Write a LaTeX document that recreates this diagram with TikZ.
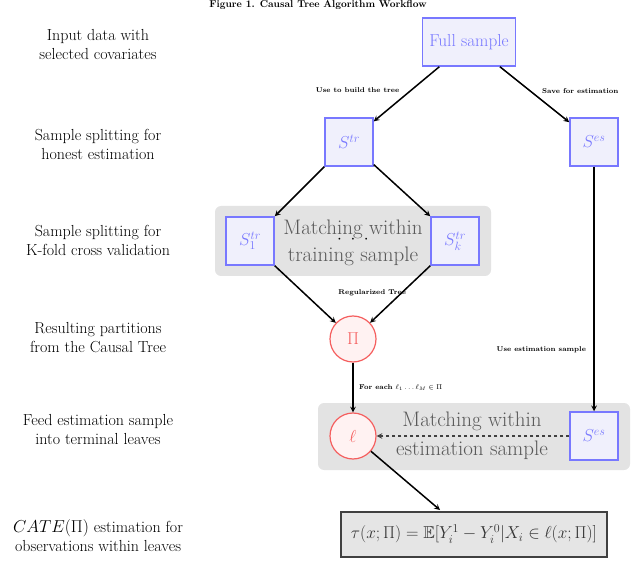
\documentclass[tikz,border=0pt]{standalone}
\usepackage{amsmath}
\usepackage{amssymb}
\usetikzlibrary{positioning, arrows}
\definecolor{boxblue}{RGB}{120,120,255}
\definecolor{boxfill}{RGB}{240,240,252}
\definecolor{leafred}{RGB}{245,95,95}
\tikzset{
	>=stealth, % arrow heads
	sample/.style={draw=boxblue, fill=boxfill, line width=1.5pt, text=boxblue, minimum size=48pt, font=\LARGE}, % blue sample boxes
	part/.style={circle, draw=leafred, fill=red!5, line width=1.2pt, text=leafred, minimum size=46pt, font=\LARGE}, % red partition nodes
	stage/.style={align=center, font=\fontsize{16}{19}\selectfont}, % left column texts
	group/.style={fill=gray!22, rounded corners=6pt}, % grey backgrounds
	elabel/.style={font=\scriptsize\bfseries}, % edge labels
	match/.style={align=center, text=gray!70!black, font=\fontsize{21}{25}\selectfont},
	flow/.style={->, line width=1.5pt},
}
\begin{document}
\begin{tikzpicture}[x=1pt, y=-1pt]
	\useasboundingbox (0,0) rectangle (640,561);
	\node[font=\normalsize\bfseries\scshape] (title) at (318,5) {Figure 1. Causal Tree Algorithm Workflow};
	% grey groups
	\fill[group] (215,206) rectangle (491,276);
	\fill[group] (318,403) rectangle (630,470);
	% left column
	\node[stage] (l1) at (98,45) {Input data with\\selected covariates};
	\node[stage] (l2) at (98,144) {Sample splitting for\\honest estimation};
	\node[stage] (l3) at (98,240) {Sample splitting for\\K-fold cross validation};
	\node[stage] (l4) at (98,338) {Resulting partitions\\from the Causal Tree};
	\node[stage] (l5) at (98,430) {Feed estimation sample\\into terminal leaves};
	\node[stage] (l6) at (98,536) {$CATE(\Pi)$ estimation for\\observations within leaves};
	% nodes
	\node[sample, minimum width=93pt] (full) at (469,42) {Full sample};
	\node[sample] (str) at (349,142) {$S^{tr}$};
	\node[sample] (ses) at (594,142) {$S^{es}$};
	\node[sample] (s1) at (250,241) {$S^{tr}_1$};
	\node[sample] (sk) at (455,241) {$S^{tr}_k$};
	\node[match] (mtr) at (353,229) {Matching within};
	\node[match] (mtr2) at (353,256) {training sample};
	\node[font=\LARGE] (dots) at (353,240) {$\cdot\;\cdot\;\cdot$};
	\node[part] (pi) at (353,339) {$\Pi$};
	\node[part] (leaf) at (353,436) {$\ell$};
	\node[sample] (ses2) at (594,436) {$S^{es}$};
	\node[match] (mes) at (472,436) {Matching within\\[4pt]estimation sample};
	\node[draw=black!75, fill=gray!20, line width=2pt, minimum width=266pt, minimum height=45pt, font=\LARGE, text=black!80] (tau) at (474,534) {$\tau(x;\Pi)=\mathbb{E}[Y_i^1-Y_i^0|X_i\in\ell(x;\Pi)]$};
	\coordinate (tauin) at (440,510);
	% connectors
	\draw[flow] (full) -- node[elabel, above left, pos=0.55] {Use to build the tree} (str);
	\draw[flow] (full) -- node[elabel, above right, pos=0.55] {Save for estimation} (ses);
	\draw[flow] (str) -- (s1.north east);
	\draw[flow] (str) -- (sk.north west);
	\draw[flow] (s1.south east) -- (pi);
	\draw[flow] (sk.south west) -- node[elabel, above, pos=0.6, xshift=-22pt] {Regularized Tree} (pi);
	\draw[flow] (ses) -- node[elabel, left, pos=0.75, xshift=-4pt] {Use estimation sample} (ses2);
	\draw[flow] (pi) -- node[elabel, right, pos=0.5, xshift=2pt] {For each $\ell_1\ldots\ell_M\in\Pi$} (leaf);
	\draw[flow, dashed, draw=black!75] (ses2) -- (leaf);
	\draw[flow] (leaf) -- (tauin);
\end{tikzpicture}
\end{document}
